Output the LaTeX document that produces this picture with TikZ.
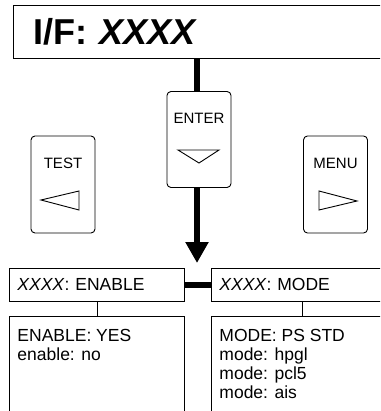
\documentclass[tikz,border=0pt]{standalone}
\usepackage{fontspec}
\setmainfont{Liberation Sans}
\usetikzlibrary{arrows.meta}

\tikzset{
  keybox/.style={draw, fill=white, rounded corners=4pt, minimum width=64pt, minimum height=96pt, inner sep=0pt},
  keylabel/.style={font=\fontsize{15}{18}\selectfont, inner sep=0pt},
  headbox/.style={draw, anchor=north west, minimum height=33pt, inner xsep=8pt, inner ysep=0pt, align=left, font=\fontsize{17.5}{19}\selectfont},
  listbox/.style={draw, anchor=north west, minimum height=120pt, inner sep=0pt},
  listtext/.style={anchor=north west, inner sep=0pt, align=left, font=\fontsize{17.5}{19}\selectfont},
  thickline/.style={line width=5.5pt}
}

\begin{document}
\begin{tikzpicture}[x=1pt, y=-1pt, line width=0.9pt]
  \useasboundingbox (0,0) rectangle (380,411);
  \clip (0,0) rectangle (380,411);

  % display line
  \node[draw, anchor=west, minimum height=53pt, text width=360pt, inner xsep=20pt, align=left,
        font=\fontsize{36}{40}\selectfont\bfseries] (iface) at (13,31.5) {I/F: \textit{XXXX}};

  \coordinate (tip) at (197,263);
  \draw[thickline, -{Triangle[width=22pt,length=21pt]}] (iface.south -| tip) -- (tip);

  % keys
  \node[keybox] (enter) at (199,139.5) {};
  \node[keybox, minimum height=97pt] (test) at (63,184.5) {};
  \node[keybox, minimum height=97pt] (menu) at (335.5,184.5) {};

  \node[keylabel] (enterlabel) at ([yshift=21.5pt]enter.center) {ENTER};
  \node[keylabel] (testlabel) at ([yshift=21.5pt]test.center) {TEST};
  \node[keylabel] (menulabel) at ([yshift=21.5pt]menu.center) {MENU};

  \draw[shift={(enter.center)}] (-21,10.5) -- (20,10.5) -- (0,23.5) -- cycle;
  \draw[shift={(test.center)}] (-22,15.5) -- (16,6.5) -- (16,25.5) -- cycle;
  \draw[shift={(menu.center)}] (-16.5,6.5) -- (-16.5,25.5) -- (21.5,16.5) -- cycle;

  % menu entries
  \node[headbox, text width=159pt] (enablehead) at (9,268) {\textit{XXXX}: ENABLE};
  \node[headbox, text width=166pt] (modehead) at (211,268) {\textit{XXXX}: MODE};

  \node[listbox, minimum width=175pt] (enablelist) at (9,316) {};
  \node[listbox, minimum width=182pt] (modelist) at (211,316) {};

  \node[listtext] (enableitems) at ([shift={(8pt,-13pt)}]enablelist.north west) {ENABLE: YES\\enable: no};
  \node[listtext] (modeitems) at ([shift={(8pt,-13pt)}]modelist.north west) {MODE: PS STD\\mode: hpgl\\mode: pcl5\\mode: ais};

  \draw[thickline] (enablehead) -- (modehead);
  \draw (enablehead) -- (enablelist);
  \draw (modehead) -- (modelist);

\end{tikzpicture}
\end{document}
